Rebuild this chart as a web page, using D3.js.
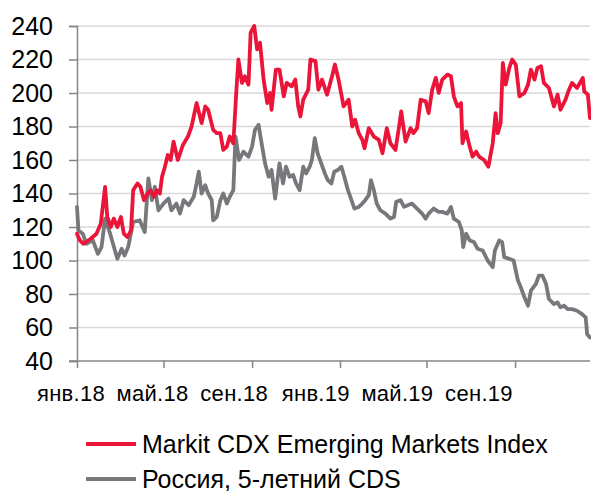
<!DOCTYPE html>
<html>
<head>
<meta charset="utf-8">
<script src="https://cdn.jsdelivr.net/npm/d3@7"></script>
<style>
  html, body { margin: 0; padding: 0; background: #fff; }
  svg { display: block; font-family: "Liberation Sans", Arial, sans-serif; }
</style>
</head>
<body>
<svg id="chart" width="591" height="491"></svg>
<script>
// Markit CDX EM index, bp
const cdxDates = [
  "2018-01-01","2018-01-05","2018-01-10","2018-01-20","2018-01-28","2018-02-03","2018-02-09","2018-02-12",
  "2018-02-17","2018-02-21","2018-02-26","2018-03-03","2018-03-07","2018-03-12","2018-03-17","2018-03-20",
  "2018-03-26","2018-03-30","2018-04-04","2018-04-09","2018-04-13","2018-04-18","2018-04-22","2018-04-26",
  "2018-04-29","2018-05-03","2018-05-07","2018-05-11","2018-05-15","2018-05-21","2018-05-28","2018-06-04",
  "2018-06-09","2018-06-16","2018-06-23","2018-06-28","2018-07-02","2018-07-09","2018-07-14","2018-07-19",
  "2018-07-23","2018-07-28","2018-08-01","2018-08-06","2018-08-10","2018-08-13","2018-08-18","2018-08-22",
  "2018-08-27","2018-08-30","2018-09-04","2018-09-08","2018-09-12","2018-09-17","2018-09-22","2018-09-26",
  "2018-09-28","2018-10-04","2018-10-09","2018-10-15","2018-10-19","2018-10-26","2018-10-31","2018-11-04",
  "2018-11-07","2018-11-11","2018-11-18","2018-11-21","2018-11-28","2018-12-02","2018-12-07","2018-12-14",
  "2018-12-21","2018-12-25","2018-12-30","2019-01-06","2019-01-13","2019-01-18","2019-01-22","2019-01-27",
  "2019-02-01","2019-02-04","2019-02-10","2019-02-17","2019-02-24","2019-03-01","2019-03-07","2019-03-12",
  "2019-03-19","2019-03-24","2019-03-27","2019-04-02","2019-04-09","2019-04-13","2019-04-18","2019-04-23",
  "2019-04-30","2019-05-04","2019-05-09","2019-05-14","2019-05-18","2019-05-23","2019-05-30","2019-06-04",
  "2019-06-08","2019-06-13","2019-06-18","2019-06-20","2019-06-25","2019-06-30","2019-07-04","2019-07-09",
  "2019-07-13","2019-07-20","2019-07-26","2019-08-01","2019-08-05","2019-08-08","2019-08-12","2019-08-15",
  "2019-08-19","2019-08-24","2019-08-28","2019-09-02","2019-09-07","2019-09-14","2019-09-19","2019-09-23",
  "2019-09-28","2019-10-02","2019-10-07","2019-10-11","2019-10-18","2019-10-25","2019-10-30","2019-11-03",
  "2019-11-10","2019-11-14","2019-11-19","2019-11-26","2019-12-04","2019-12-06","2019-12-11","2019-12-14"
];
const cdxValues = [
  116,112,110,113,116,122,144,126,
  120,125,120,126,116,114,118,142,
  146,144,136,140,142,138,142,140,
  150,156,163,160,171,160,169,174,
  180,194,182,192,190,178,176,176,
  166,168,174,170,200,220,206,210,
  205,236,240,226,230,208,194,200,
  190,214,214,198,206,204,208,192,
  186,196,202,220,219,202,208,199,
  210,217,208,192,196,180,184,176,
  172,167,179,174,172,164,179,170,
  166,180,189,171,179,176,179,196,
  195,188,202,209,200,208,211,210,
  198,192,194,170,177,168,162,165,
  162,160,156,170,188,176,182,218,
  205,215,220,217,198,200,205,214,
  208,215,216,206,203,192,199,190,
  196,201,206,203,209,201,199,185
];

// Russia 5Y CDS, bp
const rusDates = [
  "2018-01-01","2018-01-03","2018-01-09","2018-01-14","2018-01-23","2018-01-30","2018-02-04","2018-02-09",
  "2018-02-16","2018-02-20","2018-02-26","2018-03-04","2018-03-08","2018-03-13","2018-03-20","2018-03-29",
  "2018-04-05","2018-04-10","2018-04-15","2018-04-19","2018-04-24","2018-05-01","2018-05-08","2018-05-12",
  "2018-05-19","2018-05-24","2018-05-29","2018-06-05","2018-06-12","2018-06-16","2018-06-19","2018-06-23",
  "2018-06-28","2018-07-02","2018-07-07","2018-07-09","2018-07-14","2018-07-19","2018-07-23","2018-07-28",
  "2018-08-01","2018-08-06","2018-08-09","2018-08-14","2018-08-20","2018-08-27","2018-09-01","2018-09-05",
  "2018-09-10","2018-09-15","2018-09-19","2018-09-24","2018-09-28","2018-10-03","2018-10-09","2018-10-14",
  "2018-10-18","2018-10-23","2018-10-28","2018-11-01","2018-11-06","2018-11-11","2018-11-15","2018-11-20",
  "2018-11-23","2018-11-27","2018-12-01","2018-12-06","2018-12-11","2018-12-15","2018-12-20","2018-12-24",
  "2018-12-29","2019-01-03","2019-01-07","2019-01-12","2019-01-17","2019-01-21","2019-01-27","2019-02-01",
  "2019-02-05","2019-02-10","2019-02-13","2019-02-17","2019-02-21","2019-02-26","2019-03-05","2019-03-12",
  "2019-03-17","2019-03-20","2019-03-26","2019-03-31","2019-04-05","2019-04-11","2019-04-18","2019-04-25",
  "2019-04-30","2019-05-04","2019-05-11","2019-05-18","2019-05-23","2019-05-30","2019-06-04","2019-06-08",
  "2019-06-15","2019-06-19","2019-06-21","2019-06-25","2019-06-30","2019-07-06","2019-07-11","2019-07-18",
  "2019-07-25","2019-08-01","2019-08-04","2019-08-10","2019-08-14","2019-08-17","2019-08-24","2019-08-30",
  "2019-09-05","2019-09-09","2019-09-14","2019-09-19","2019-09-23","2019-09-30","2019-10-04","2019-10-09",
  "2019-10-14","2019-10-18","2019-10-25","2019-10-30","2019-11-03","2019-11-08","2019-11-13","2019-11-19",
  "2019-11-26","2019-12-03","2019-12-08","2019-12-10","2019-12-14"
];
const rusValues = [
  132,118,116,110,112,104,108,125,
  116,110,101,107,103,108,123,124,
  117,149,136,144,130,134,137,130,
  134,128,136,133,138,146,153,140,
  145,140,136,124,126,136,140,134,
  138,142,174,160,165,162,168,178,
  181,168,158,150,154,137,158,146,
  156,150,151,146,142,156,152,156,
  160,173,164,158,152,148,146,153,
  154,156,150,142,136,131,132,134,
  136,139,148,142,134,130,128,125,
  126,135,136,132,133,134,131,128,
  125,128,131,129,129,128,132,125,
  123,118,108,116,112,111,107,106,
  100,96,106,112,111,102,101,100,
  88,84,78,73,82,86,91,91,
  86,77,74,75,72,73,71,71,
  70,68,66,56,54
];

const yTicks = [40, 60, 80, 100, 120, 140, 160, 180, 200, 220, 240];
const xTickDates = ["2018-01-01","2018-05-01","2018-09-01","2019-01-01","2019-05-01","2019-09-01"];
const xTickLabels = ["янв.18","май.18","сен.18","янв.19","май.19","сен.19"];
const seriesNames = ["Markit CDX Emerging Markets Index", "Россия, 5-летний CDS"];
const seriesColors = ["#EA1538", "#77787B"];

const parse = d3.timeParse("%Y-%m-%d");
const svg = d3.select("#chart");

const plot = { left: 77, right: 590, top: 26, bottom: 361 };

const x = d3.scaleTime()
  .domain([parse("2018-01-01"), parse("2019-12-14")])
  .range([plot.left, plot.right]);
const y = d3.scaleLinear()
  .domain([40, 240])
  .range([plot.bottom, plot.top]);

// horizontal gridlines
svg.append("g")
  .selectAll("line")
  .data(yTicks.filter(v => v > 40))
  .join("line")
  .attr("x1", plot.left).attr("x2", plot.right)
  .attr("y1", d => y(d)).attr("y2", d => y(d))
  .attr("stroke", "#D9D9D9").attr("stroke-width", 1.6);

// y axis
const yAxis = svg.append("g")
  .attr("transform", `translate(${plot.left},0)`)
  .call(d3.axisLeft(y).tickValues(yTicks).tickSize(8).tickPadding(16));
yAxis.select(".domain").attr("stroke", "#868686").attr("stroke-width", 1.5);
yAxis.selectAll(".tick line").attr("stroke", "#868686").attr("stroke-width", 1.5);
yAxis.selectAll(".tick text")
  .attr("font-size", 25).attr("fill", "#000")
  .attr("font-family", "Liberation Sans, Arial, sans-serif");

// x axis with ticks every four months
const xAxis = svg.append("g")
  .attr("transform", `translate(0,${plot.bottom})`)
  .call(d3.axisBottom(x).tickValues(xTickDates.map(parse)).tickSize(7).tickFormat(""));
xAxis.select(".domain").attr("stroke", "#868686").attr("stroke-width", 1.5)
  .attr("d", `M${plot.left - 8},0H${plot.right}`);
xAxis.selectAll(".tick line").attr("stroke", "#868686").attr("stroke-width", 1.5);

// month labels, evenly spread beneath the axis
const labelX = d3.scaleLinear().domain([0, xTickLabels.length - 1]).range([71, 479]);
svg.append("g")
  .selectAll("text")
  .data(xTickLabels)
  .join("text")
  .attr("x", (d, i) => labelX(i))
  .attr("y", 401)
  .attr("text-anchor", "middle")
  .attr("font-size", 22)
  .attr("letter-spacing", 0.3)
  .attr("fill", "#000")
  .text(d => d);

// series lines
const line = d3.line()
  .x(d => x(d.date))
  .y(d => y(d.value));

const series = [
  { name: seriesNames[1], color: seriesColors[1],
    points: rusDates.map((d, i) => ({ date: parse(d), value: rusValues[i] })) },
  { name: seriesNames[0], color: seriesColors[0],
    points: cdxDates.map((d, i) => ({ date: parse(d), value: cdxValues[i] })) }
];

svg.append("g")
  .selectAll("path")
  .data(series)
  .join("path")
  .attr("d", d => line(d.points))
  .attr("fill", "none")
  .attr("stroke", d => d.color)
  .attr("stroke-width", 3.8)
  .attr("stroke-linejoin", "round")
  .attr("stroke-linecap", "round");

// legend
const legend = svg.append("g");
const legendRows = seriesNames.map((n, i) => ({ name: n, color: seriesColors[i], row: i }));
const lg = legend.selectAll("g")
  .data(legendRows)
  .join("g")
  .attr("transform", d => `translate(86,${444 + d.row * 35})`);
lg.append("line")
  .attr("x1", 0).attr("x2", 50)
  .attr("y1", 0).attr("y2", 0)
  .attr("stroke", d => d.color)
  .attr("stroke-width", 4);
lg.append("text")
  .attr("x", 56)
  .attr("y", 9)
  .attr("font-size", 25)
  .attr("fill", "#000")
  .text(d => d.name);
</script>
</body>
</html>
